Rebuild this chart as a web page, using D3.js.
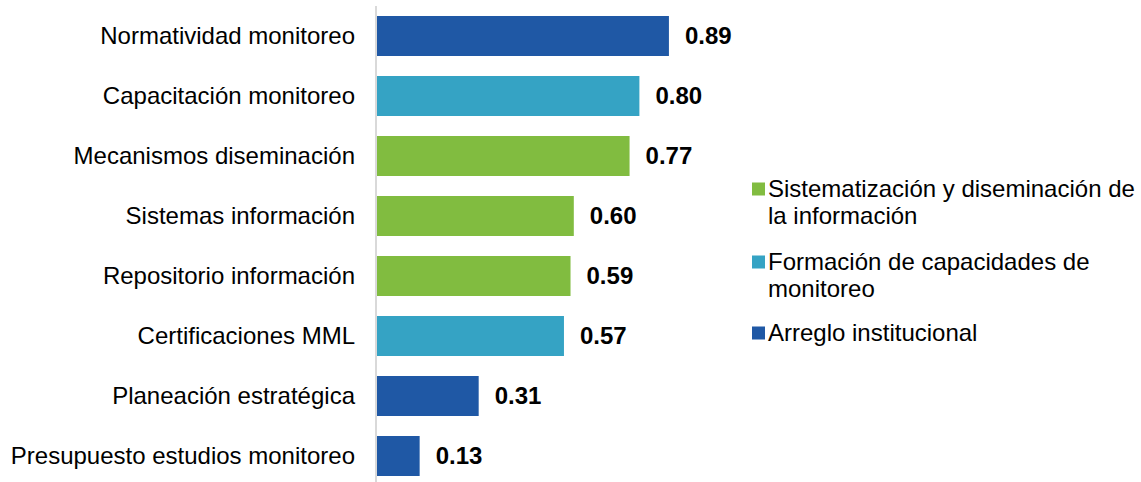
<!DOCTYPE html>
<html><head><meta charset="utf-8">
<script src="https://cdn.jsdelivr.net/npm/d3@7"></script>
<style>body{margin:0;background:#fff}svg{display:block}text{font-family:"Liberation Sans",Arial,sans-serif}</style>
</head><body><svg id="c" width="1141" height="482"></svg>
<script>
const categories = ["Normatividad monitoreo","Capacitación monitoreo","Mecanismos diseminación","Sistemas información","Repositorio información","Certificaciones MML","Planeación estratégica","Presupuesto estudios monitoreo"];
const values = [0.89,0.80,0.77,0.60,0.59,0.57,0.31,0.13];
const groups = ["Arreglo institucional","Formación de capacidades de monitoreo","Sistematización y diseminación de la información","Sistematización y diseminación de la información","Sistematización y diseminación de la información","Formación de capacidades de monitoreo","Arreglo institucional","Arreglo institucional"];
const legendItems = [
  {name:"Sistematización y diseminación de la información", lines:["Sistematización y diseminación de","la información"]},
  {name:"Formación de capacidades de monitoreo", lines:["Formación de capacidades de","monitoreo"]},
  {name:"Arreglo institucional", lines:["Arreglo institucional"]}
];
const colorMap = {"Arreglo institucional":"#1F58A5","Formación de capacidades de monitoreo":"#35A3C4","Sistematización y diseminación de la información":"#81BC40"};

const svg = d3.select("#c");
const x0 = 377;
const x = d3.scaleLinear().domain([0,1]).range([x0, x0+328]);
const y = d3.scaleBand().domain(categories).range([6,486]).paddingInner(1/3).paddingOuter(1/6);

svg.append("g").selectAll("rect").data(categories).join("rect")
  .attr("x", x(0)).attr("y", d=>y(d)).attr("height", y.bandwidth())
  .attr("width", (d,i)=>x(values[i])-x(0))
  .attr("fill", (d,i)=>colorMap[groups[i]]);

svg.append("line").attr("x1",376).attr("x2",376).attr("y1",6).attr("y2",482)
  .attr("stroke","#d9d9d9").attr("stroke-width",2);

svg.append("g").selectAll("text").data(categories).join("text")
  .attr("x",355).attr("y",d=>y(d)+y.bandwidth()/2).attr("dy","0.35em")
  .attr("text-anchor","end").attr("font-size",24).attr("fill","#000").text(d=>d);

svg.append("g").selectAll("text").data(categories).join("text")
  .attr("x",(d,i)=>x(values[i])+16).attr("y",d=>y(d)+y.bandwidth()/2).attr("dy","0.35em")
  .attr("font-size",24).attr("font-weight","bold").attr("fill","#000")
  .text((d,i)=>d3.format(".2f")(values[i]));

const legY = [189, 262, 333];
const lg = svg.append("g");
legendItems.forEach((it,k)=>{
  lg.append("rect").attr("x",752).attr("y",legY[k]-6.5).attr("width",13).attr("height",13).attr("fill",colorMap[it.name]);
  it.lines.forEach((ln,j)=>{
    lg.append("text").attr("x",768).attr("y",legY[k]+j*26.5).attr("dy","0.35em")
      .attr("font-size",24).attr("fill","#000").text(ln);
  });
});
</script></body></html>
